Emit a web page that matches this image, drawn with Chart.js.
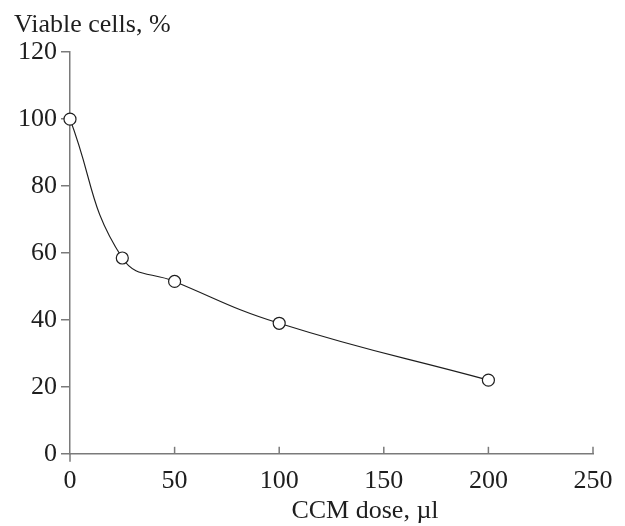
<!DOCTYPE html>
<html>
<head>
<meta charset="utf-8">
<script src="https://cdn.jsdelivr.net/npm/chart.js@4/dist/chart.umd.min.js"></script>
<style>
  html, body { margin: 0; padding: 0; background: #fff; }
  #wrap { width: 625px; height: 526px; }
</style>
</head>
<body>
<div id="wrap"><canvas id="viability_chart"></canvas></div>
<script>
// CCM dose (ul) vs viable cells (%)
var doses = [0, 25, 50, 100, 200];
var viable = [100, 58.5, 51.5, 39, 22];
var xTickValues = [0, 50, 100, 150, 200, 250];
var yTickValues = [0, 20, 40, 60, 80, 100, 120];

var serif = "'Liberation Serif', 'Times New Roman', serif";
var axisColor = "#7a7a7a";
var inkColor = "#1e1e1e";

// x ticks point up into the plot, like the original figure
var innerTicks = {
  id: 'innerTicks',
  afterDraw: function(chart) {
    var ctx = chart.ctx;
    var x = chart.scales.x;
    var bottom = chart.chartArea.bottom;
    ctx.save();
    ctx.strokeStyle = axisColor;
    ctx.lineWidth = 1.5;
    xTickValues.forEach(function(v) {
      var px = x.getPixelForValue(v);
      ctx.beginPath();
      if (v === 0) {
        ctx.moveTo(px, bottom);
        ctx.lineTo(px, bottom + 8);
      } else {
        ctx.moveTo(px, bottom);
        ctx.lineTo(px, bottom - 7);
      }
      ctx.stroke();
    });
    // x axis title
    ctx.fillStyle = inkColor;
    ctx.font = "26px " + serif;
    ctx.textAlign = 'center';
    ctx.textBaseline = 'alphabetic';
    ctx.fillText('CCM dose, \u00b5l', 365, 518);
    ctx.restore();
  }
};

var ctx = document.getElementById("viability_chart");

var myChart = new Chart(ctx, {
  type: 'line',
  plugins: [innerTicks],
  data: {
    datasets: [{
      data: doses.map(function(d, i) { return {x: d, y: viable[i]}; }),
      borderColor: inkColor,
      borderWidth: 1.2,
      tension: 0.45,
      fill: false,
      clip: false,
      pointRadius: 6,
      pointHoverRadius: 6,
      pointBackgroundColor: "#fff",
      pointBorderColor: inkColor,
      pointBorderWidth: 1.2
    }]
  },
  options: {
    responsive: true,
    maintainAspectRatio: false,
    animation: false,
    layout: {
      padding: {left: 14, right: 32, top: 0, bottom: 17}
    },
    plugins: {
      legend: { display: false },
      tooltip: { enabled: false },
      title: {
        display: true,
        text: 'Viable cells, %',
        align: 'start',
        color: inkColor,
        font: { family: serif, size: 26, weight: 'normal' },
        padding: { top: 10, bottom: 11 }
      }
    },
    scales: {
      x: {
        type: 'linear',
        min: 0,
        max: 250,
        afterBuildTicks: function(axis) {
          axis.ticks = xTickValues.map(function(v) { return {value: v}; });
        },
        grid: { drawOnChartArea: false, drawTicks: false },
        border: { color: axisColor, width: 1.5 },
        ticks: {
          color: inkColor,
          padding: 12,
          maxRotation: 0,
          font: { family: serif, size: 26 }
        }
      },
      y: {
        min: 0,
        max: 120,
        afterBuildTicks: function(axis) {
          axis.ticks = yTickValues.map(function(v) { return {value: v}; });
        },
        afterFit: function(axis) { axis.width = 56; },
        grid: { drawOnChartArea: false, drawTicks: true, tickLength: 9, color: axisColor, lineWidth: 1.5 },
        border: { color: axisColor, width: 1.5 },
        ticks: {
          color: inkColor,
          padding: 4,
          font: { family: serif, size: 26 }
        }
      }
    }
  }
});
</script>
</body>
</html>
